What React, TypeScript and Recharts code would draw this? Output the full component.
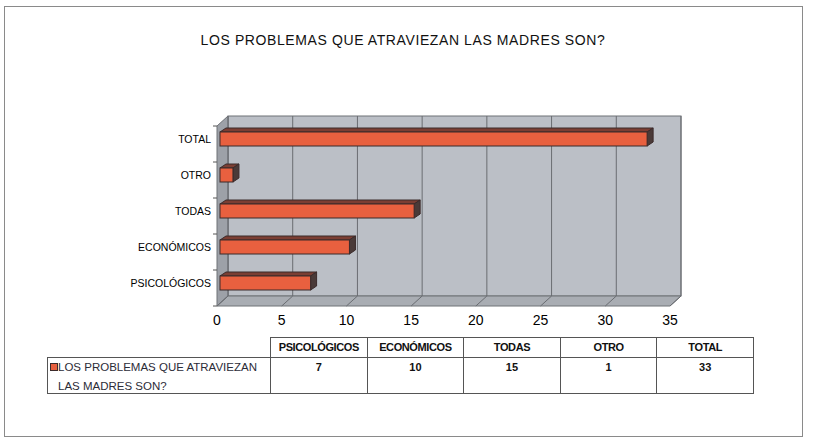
import { BarChart, Bar, XAxis, YAxis, ReferenceArea } from 'recharts';

// --- Data ---
const title = 'LOS PROBLEMAS QUE ATRAVIEZAN LAS MADRES SON?';
const seriesName = 'LOS PROBLEMAS QUE ATRAVIEZAN LAS MADRES SON?';
const categories = ['PSICOLÓGICOS', 'ECONÓMICOS', 'TODAS', 'OTRO', 'TOTAL'];
const values = [7, 10, 15, 1, 33];
const xTicks = [0, 5, 10, 15, 20, 25, 30, 35];

const data = categories.map((name, i) => ({ name, value: values[i] }));

const BAR_FRONT = '#e8603f';
const FONT = '"Liberation Sans", Arial, sans-serif';

// 3D box behind the bars: back wall, left wall, floor and grid
function Wall(props: any) {
    const { x, y, width: w, height: h } = props;
    const dx = 11, dy = 10, lift = 5;
    const fTop = y + lift;
    const fBot = y + h + lift;
    const bTop = fTop - dy;
    const bBot = fBot - dy;
    const max = xTicks[xTicks.length - 1];
    const px = (t: number) => x + (w * t) / max;
    const n = categories.length;
    return (
        <g>
            <rect x={x + dx} y={bTop} width={w} height={h} fill="#bbbfc6" stroke="#6f7277" strokeWidth={1} />
            <polygon
                points={`${x},${fTop} ${x + dx},${bTop} ${x + dx},${bBot} ${x},${fBot}`}
                fill="#9da1a8" stroke="#6f7277" strokeWidth={1}
            />
            <polygon
                points={`${x},${fBot} ${x + dx},${bBot} ${x + w + dx},${bBot} ${x + w},${fBot}`}
                fill="#a9adb3" stroke="#6f7277" strokeWidth={1}
            />
            {xTicks.map((t) => (
                <g key={t}>
                    <line x1={px(t) + dx} y1={bTop} x2={px(t) + dx} y2={bBot} stroke="#6a6d72" strokeWidth={1} />
                    <line x1={px(t)} y1={fBot} x2={px(t) + dx} y2={bBot} stroke="#6a6d72" strokeWidth={1} />
                </g>
            ))}
            {Array.from({ length: n + 1 }, (_, k) => (
                <line key={k} x1={x - 4} y1={fTop + (h * k) / n} x2={x} y2={fTop + (h * k) / n} stroke="#555" strokeWidth={1} />
            ))}
        </g>
    );
}

// 3D bar: front face, top face and right side
function Bar3D(props: any) {
    const { x, y, width, height } = props;
    const fx = x + 3;
    const d = 6, dd = 4;
    return (
        <g>
            <polygon
                points={`${fx},${y} ${fx + d},${y - dd} ${fx + width + d},${y - dd} ${fx + width},${y}`}
                fill="#7b3e33" stroke="#3b2b2b" strokeWidth={1}
            />
            <polygon
                points={`${fx + width},${y} ${fx + width + d},${y - dd} ${fx + width + d},${y + height - dd} ${fx + width},${y + height}`}
                fill="#4a3a38" stroke="#3b2b2b" strokeWidth={1}
            />
            <rect x={fx} y={y} width={width} height={height} fill={BAR_FRONT} stroke="#3b2b2b" strokeWidth={1} />
        </g>
    );
}

const colLeft = 270;
const colW = 96.6;
const headTop = 337;
const headH = 20;
const rowH = 36;

export default function App() {
    return (
        <div style={{ position: 'relative', width: 834, height: 448, background: '#fff', fontFamily: FONT }}>
            <style>{`body{margin:0}`}</style>
            <div style={{ position: 'absolute', left: 4, top: 6, width: 799, height: 431, border: '1px solid #8a8a8a', boxSizing: 'border-box' }} />
            <div style={{ position: 'absolute', left: 0, top: 32, width: 806, textAlign: 'center', fontSize: 14, letterSpacing: 0.6, color: '#111', lineHeight: '16px' }}>
                {title}
            </div>
            <div style={{ position: 'absolute', left: 0, top: 0 }}>
                <BarChart
                    width={834}
                    height={448}
                    data={data}
                    layout="vertical"
                    margin={{ top: 121, right: 164, left: 157, bottom: 117 }}
                    barSize={14}
                >
                    <ReferenceArea x1={0} x2={35} shape={<Wall />} />
                    <XAxis
                        type="number"
                        domain={[0, 35]}
                        ticks={xTicks}
                        axisLine={false}
                        tickLine={false}
                        tickSize={0}
                        tickMargin={14}
                        height={30}
                        tick={{ fontSize: 14, fill: '#000', fontFamily: FONT }}
                    />
                    <YAxis
                        type="category"
                        dataKey="name"
                        reversed
                        width={60}
                        axisLine={false}
                        tickLine={false}
                        tickSize={0}
                        tickMargin={6}
                        interval={0}
                        tick={{ fontSize: 10.5, fill: '#000', fontFamily: FONT }}
                    />
                    <Bar dataKey="value" shape={<Bar3D />} isAnimationActive={false} />
                </BarChart>
            </div>
            {/* data table */}
            {categories.map((c, i) => (
                <div key={c}>
                    <div style={{
                        position: 'absolute', left: colLeft + i * colW, top: headTop, width: colW + 1, height: headH + 1,
                        border: '1px solid #555', boxSizing: 'border-box', textAlign: 'center', fontSize: 11,
                        fontWeight: 'bold', letterSpacing: -0.4, lineHeight: '18px', color: '#111'
                    }}>{c}</div>
                    <div style={{
                        position: 'absolute', left: colLeft + i * colW, top: headTop + headH, width: colW + 1, height: rowH + 1,
                        border: '1px solid #555', boxSizing: 'border-box', textAlign: 'center', fontSize: 11,
                        fontWeight: 'bold', lineHeight: '16px', paddingTop: 1, color: '#111'
                    }}>{values[i]}</div>
                </div>
            ))}
            <div style={{
                position: 'absolute', left: 47, top: headTop + headH, width: colLeft - 47 + 1, height: rowH + 1,
                border: '1px solid #555', boxSizing: 'border-box'
            }}>
                <div style={{ position: 'absolute', left: 2, top: 5, width: 6, height: 6, background: BAR_FRONT, border: '1px solid #3b2b2b' }} />
                <div style={{ position: 'absolute', left: 10, top: 0, width: 212, fontSize: 11.5, lineHeight: '19px', color: '#2c2c38' }}>
                    {seriesName}
                </div>
            </div>
        </div>
    );
}
